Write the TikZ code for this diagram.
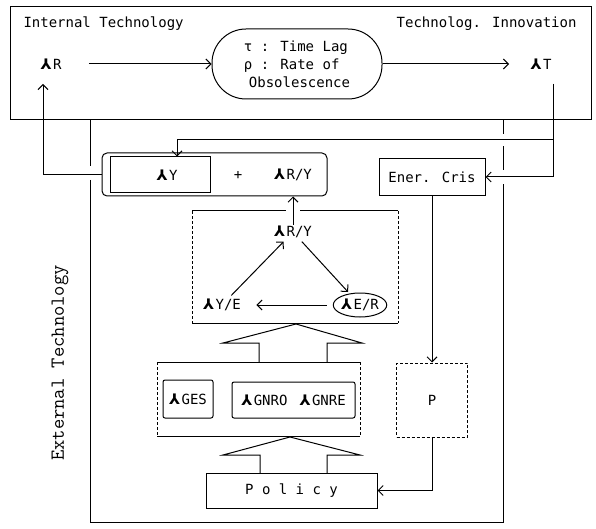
\documentclass[tikz,border=0pt]{standalone}
\usepackage{fontspec}
\usetikzlibrary{arrows.meta,calc,shapes.geometric}
\newfontfamily\dvs{DejaVu Sans}
\newfontfamily\dvm{DejaVu Sans Mono}
\newcommand{\gs}{{\dvs\bfseries\fontsize{14.5}{14}\selectfont ⅄}\kern1.5pt}
\tikzset{
  lbl/.style={font=\dvm\fontsize{14}{18}\selectfont, inner sep=1pt},
  arr/.style={-{Straight Barb[length=5pt,width=10pt]}},
  dsh/.style={densely dashed},
}
\begin{document}
\begin{tikzpicture}[x=1pt,y=-1pt,line width=1pt]
\useasboundingbox (0,0) rectangle (596,529);
% top box
\draw (10,7) rectangle (591,120);
\node[lbl,anchor=west] (it) at (22,24) {Internal Technology};
\node[lbl,anchor=east] (ti) at (578,24) {Technolog. Innovation};
\node[lbl] (gR) at (51,64) {\gs R};
\node[lbl,draw,rounded corners=34pt,minimum width=170pt,minimum height=70pt,align=left] (st) at (297,64)
  {τ : Time Lag\\ρ : Rate of\\\hspace*{5pt}Obsolescence};
\node[lbl] (gT) at (541,64) {\gs T};
\draw[arr,shorten <=26pt] (gR.east) -- (st.west);
\draw[arr,shorten >=20pt] (st.east) -- (gT.west);
\coordinate (aR) at (43,84);
\coordinate (tT) at (553,84);
% external box
\draw (90,120) -- (90,166);
\draw (90,180) -- (90,522) -- (503,522) -- (503,184);
\draw (503,170) -- (503,146);
\draw (503,134) -- (503,120);
\node[rotate=90,font=\ttfamily\fontsize{20}{22}\selectfont] (ext) at (60,363) {External Technology};
% Y + R/Y
\node[draw,rounded corners=5pt,minimum width=225pt,minimum height=43pt] (ypo) at (214.5,174.5) {};
\node[lbl,draw,fill=white,minimum width=100pt,minimum height=36pt] (yb) at (160,175) {\hspace*{14pt}\gs Y};
\node[lbl] (plus) at (238,175) {+};
\node[lbl] (ry1) at (293,175) {\gs R/Y};
\draw[arr] (ypo.west) -| (aR);
\draw[arr] (tT) |- ($(yb.north)+(17,-17)$) -- ($(yb.north)+(17,0)$);
% Ener. Cris
\node[lbl,draw,minimum width=106pt,minimum height=37pt] (ec) at (432,177) {Ener. Cris};
\draw[arr] (tT) |- (ec.east);
% triangle box
\draw[dsh] (192,211) -- (192,323);
\draw[dsh] (398,211) -- (398,323);
\draw (192,211) -- (286,211);
\draw (300,211) -- (398,211);
\draw (192,323) -- (398,323);
\node[lbl] (rY) at (293,232) {\gs R/Y};
\node[lbl] (yE) at (222,305) {\gs Y/E};
\node[lbl,draw,ellipse,inner sep=0pt,minimum width=46pt,minimum height=24pt] (eR) at (360,305) {\gs E/R};
\draw[arr,shorten <=3pt,shorten >=3pt] (yE) -- (rY);
\draw[arr,shorten <=3pt,shorten >=2pt] (rY) -- (eR);
\draw[arr,shorten <=6pt,shorten >=14pt] (eR) -- (yE);
\draw[arr] (rY.north) -- (rY.north |- ypo.south);
% hollow arrow upper
\draw (259,362) -- (259,343) -- (223,343) -- (296,324) -- (362,343) -- (327,343) -- (327,362);
% middle box
\draw (157,362) -- (360,362);
\draw (157,436) -- (360,436);
\draw[dsh] (157,362) -- (157,436);
\draw[dsh] (360,362) -- (360,436);
\node[lbl,draw,rounded corners=2pt,minimum width=50pt,minimum height=38pt] (ges) at (188,399) {\gs GES};
\node[lbl,draw,rounded corners=2pt,minimum width=123pt,minimum height=36pt] (gnr) at (293.5,400) {\gs GNRO\hspace{12pt}\gs GNRE};
% hollow arrow lower
\draw (260,473) -- (260,455) -- (223,455) -- (290,437) -- (360,455) -- (327,455) -- (327,473);
% P box
\node[lbl,draw,dsh,minimum width=71pt,minimum height=74pt] (P) at (432,400) {P};
\draw[arr] (ec.south) -- (P.north);
% Policy
\node[lbl,draw,minimum width=171pt,minimum height=35pt] (pol) at (291.5,490.5) {P o l i c y};
\draw[arr] (P.south) |- (pol.east);
\end{tikzpicture}
\end{document}
